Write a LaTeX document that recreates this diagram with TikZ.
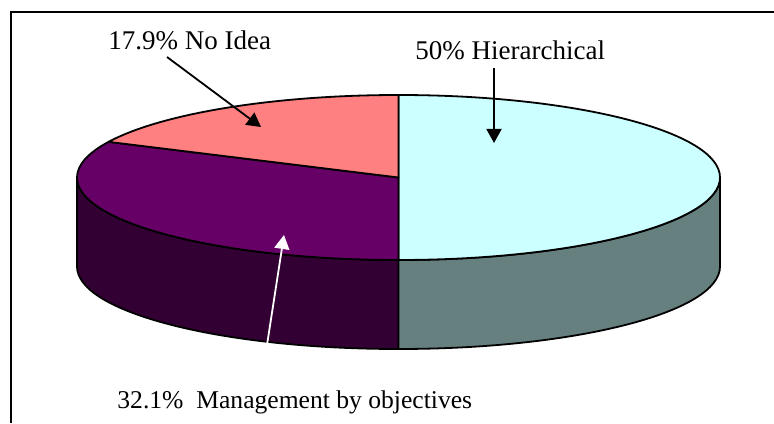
\documentclass[tikz,border=0pt]{standalone}
\usepackage{fontspec}
\setmainfont{Liberation Serif}
\usetikzlibrary{arrows.meta}
\definecolor{hiertop}{HTML}{CCFFFF}
\definecolor{hierside}{HTML}{668080}
\definecolor{mbotop}{HTML}{660066}
\definecolor{mboside}{HTML}{330033}
\definecolor{ideatop}{HTML}{FF8080}

\begin{document}
\begin{tikzpicture}[x=0.5pt, y=0.5pt,
    slice/.style = {draw, line width=0.9pt, line join=round},
    pielabel/.style = {font=\fontsize{13.5}{16}\selectfont, inner sep=0pt, anchor=base west},
    callout/.style = {-{Triangle[length=7pt, width=7.5pt]}, line width=0.9pt}]
    \useasboundingbox (0,0) rectangle (774,423);
    \draw [line width=0.7pt] (11,0) -- (11,411) -- (774,411);
    \def\prx{321.5} \def\pry{82.5} \def\pdz{89}
    \coordinate (c) at (398.5,245.5);
    \path (c) ++(154.4:{\prx} and {\pry}) coordinate (split);
    \draw [slice, fill=mboside] (c) ++(-\prx,0)
      arc [start angle=180, end angle=270, x radius=\prx, y radius=\pry] -- ++(0,-\pdz)
      arc [start angle=270, end angle=180, x radius=\prx, y radius=\pry] -- cycle;
    \draw [slice, fill=hierside] (c) ++(0,-\pry)
      arc [start angle=270, end angle=360, x radius=\prx, y radius=\pry] -- ++(0,-\pdz)
      arc [start angle=360, end angle=270, x radius=\prx, y radius=\pry] -- cycle;
    \draw [slice, fill=hiertop] (c) -- ++(0,\pry)
      arc [start angle=90, end angle=-90, x radius=\prx, y radius=\pry] -- cycle;
    \draw [slice, fill=mbotop] (c) -- ++(0,-\pry)
      arc [start angle=270, end angle=154.4, x radius=\prx, y radius=\pry] -- cycle;
    \draw [slice, fill=ideatop] (c) -- (split)
      arc [start angle=154.4, end angle=90, x radius=\prx, y radius=\pry] -- cycle;
    \node [pielabel] (idea) at (108,373) {17.9\% No Idea};
    \node [pielabel] (hier) at (415,363) {50\% Hierarchical};
    \node [pielabel, font=\fontsize{12.8}{15}\selectfont] (mbo) at (117,15)
      {32.1\%\ \ Management by objectives};
    \coordinate (idea tail) at (167,366);
    \coordinate (idea tip) at (261,296);
    \coordinate (hier tail) at (494,355);
    \coordinate (hier tip) at (494,280);
    \coordinate (mbo tail) at (267,78);
    \coordinate (mbo tip) at (284,188);
    \draw [callout] (idea tail) -- (idea tip);
    \draw [callout] (hier tail) -- (hier tip);
    \draw [callout, white] (mbo tail) -- (mbo tip);
\end{tikzpicture}
\end{document}
